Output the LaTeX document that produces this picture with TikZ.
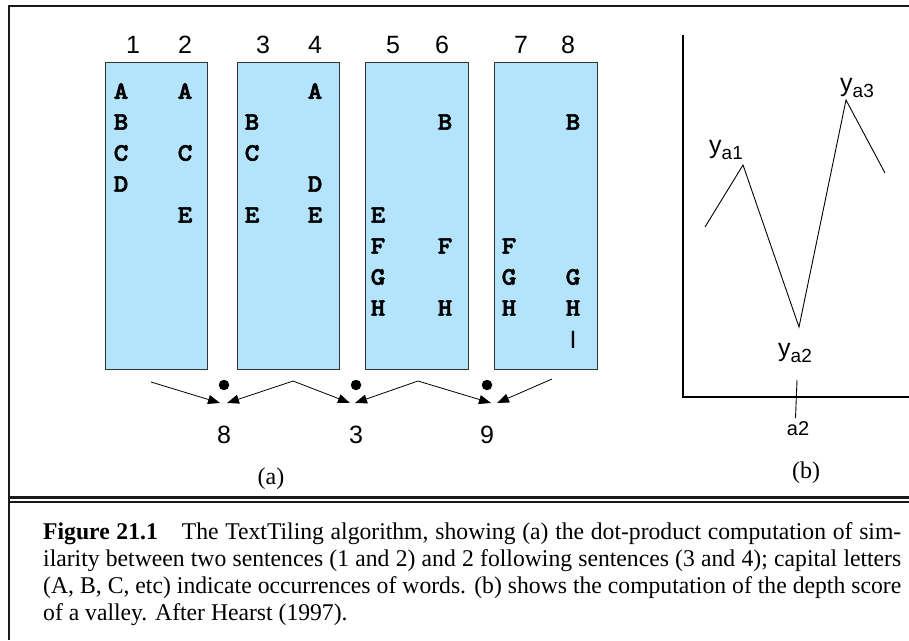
\documentclass[tikz,border=0pt]{standalone}
\usepackage{fontspec}
\setmainfont{Liberation Serif}
\newfontfamily\helv{Liberation Sans}
\newfontfamily\capfont[FakeStretch=0.985]{Liberation Serif}
\newfontfamily\monob[FakeBold=2.2,FakeStretch=1.12]{lmmonolt10-bold.otf}
\usetikzlibrary{arrows.meta}
\definecolor{boxblue}{RGB}{180,228,252}
\tikzset{
  sentbox/.style={draw=black!80, fill=boxblue, line width=0.9pt},
  colnum/.style={font=\helv\fontsize{25}{30}\selectfont, inner sep=0, anchor=base},
  wd/.style={font=\monob\fontsize{25}{30}\selectfont, inner sep=0},
  frameline/.style={line width=2.4pt, black!90},
  dotmark/.style={circle, fill=black, inner sep=0, minimum size=10.5pt},
  simarrow/.style={line width=0.8pt, -{Triangle[length=12pt,width=9pt]}},
  plotline/.style={line width=0.9pt},
  axis/.style={line width=2pt},
  ylab/.style={font=\helv\fontsize{25}{30}\selectfont, inner sep=0, anchor=base},
  sublab/.style={font=\helv\fontsize{20}{24}\selectfont, inner sep=0, anchor=base},
  partlab/.style={font=\fontsize{24}{28}\selectfont, inner sep=0, anchor=base},
}
\newcommand{\ysub}[1]{y\raisebox{-6pt}{\fontsize{19}{19}\selectfont #1}}
\begin{document}
\begin{tikzpicture}[x=1pt,y=-1pt]
\useasboundingbox (0,0) rectangle (909,640);
% frame
\draw[frameline] (9,497) -- (9,6) -- (909,6);
\draw[line width=2pt, black!90] (9,497) -- (9,640);
\draw[line width=3pt, black!90] (9,497.5) -- (909,497.5);
\draw[line width=1.8pt, black!90] (9,502) -- (909,502);

% sentence boxes
\node[sentbox, minimum width=102pt, minimum height=307pt, inner sep=0] (b1) at (156,215.5) {};
\node[sentbox, minimum width=102pt, minimum height=307pt, inner sep=0] (b2) at (288,215.5) {};
\node[sentbox, minimum width=103pt, minimum height=307pt, inner sep=0] (b3) at (416.5,215.5) {};
\node[sentbox, minimum width=103pt, minimum height=307pt, inner sep=0] (b4) at (545.5,215.5) {};

% column numbers
\foreach \xx/\t [count=\n] in {133/1,185/2,263/3,315/4,393/5,442/6,521/7,568/8}
  \node[colnum] (c\n) at (\xx,53) {\t};

% word letters
\foreach \xx/\r/\t [count=\n] in {
  121/0/A,121/1/B,121/2/C,121/3/D,
  185/0/A,185/2/C,185/4/E,
  252/1/B,252/2/C,252/4/E,
  315/0/A,315/3/D,315/4/E,
  378/4/E,378/5/F,378/6/G,378/7/H,
  445/1/B,445/5/F,445/7/H,
  509/5/F,509/6/G,509/7/H,
  573/1/B,573/6/G,573/7/H}
  \node[wd] (w\n) at (\xx,{91+31*\r}) {\t};
\node[font=\helv\fontsize{25}{30}\selectfont, inner sep=0] (wI) at (573,340) {I};

% dots and arrows
\node[dotmark] (d1) at (224,385) {};
\node[dotmark] (d2) at (356,385) {};
\node[dotmark] (d3) at (487,385) {};
\coordinate (s0) at (151,382);
\coordinate (p1) at (293,381);
\coordinate (p2) at (418,381);
\coordinate (s3) at (552,379);
\coordinate (t1l) at (220,403);
\coordinate (t1r) at (227,403);
\coordinate (t2l) at (350,403);
\coordinate (t2r) at (355,403);
\coordinate (t3l) at (491,403);
\coordinate (t3r) at (497,403);
\draw[simarrow] (s0) -- (t1l);
\draw[simarrow] (p1) -- (t1r);
\draw[simarrow] (p1) -- (t2l);
\draw[simarrow] (p2) -- (t2r);
\draw[simarrow] (p2) -- (t3l);
\draw[simarrow] (s3) -- (t3r);
\node[colnum] (n1) at (224,443) {8};
\node[colnum] (n2) at (356,443) {3};
\node[colnum] (n3) at (487,443) {9};
\node[partlab] (pa) at (271,484) {(a)};

% panel (b)
\coordinate (ytop) at (683,35);
\coordinate (org) at (683,397);
\coordinate (xend) at (909,397);
\draw[axis] (ytop) -- (org) -- (xend);
\coordinate (q0) at (705,227);
\coordinate (q1) at (743,165);
\coordinate (q2) at (799,327);
\coordinate (q3) at (846,100);
\coordinate (q4) at (885,173);
\draw[plotline] (q0) -- (q1) -- (q2) -- (q3) -- (q4);
\coordinate (k1) at (797,380);
\coordinate (k2) at (795.5,418);
\draw[plotline] (k1) -- (k2);
\node[ylab] (ya1) at (726,153) {\ysub{a1}};
\node[ylab] (ya2) at (795,356) {\ysub{a2}};
\node[ylab] (ya3) at (857,91) {\ysub{a3}};
\node[sublab] (a2) at (798,435) {a2};
\node[partlab] (pb) at (806,478) {(b)};

% caption
\node[anchor=north west, inner sep=0, text width=858pt, align=justify,
      font=\capfont\fontsize{24}{27}\selectfont] (cap) at (43,522)
{\textbf{Figure 21.1}\hspace{1em}The TextTiling algorithm, showing (a) the dot-product computation of sim-\linebreak
ilarity between two sentences (1 and 2) and 2 following sentences (3 and 4); capital letters\linebreak
(A, B, C, etc) indicate occurrences of words. (b) shows the computation of the depth score\linebreak
of a valley. After Hearst (1997).};
\end{tikzpicture}
\end{document}
